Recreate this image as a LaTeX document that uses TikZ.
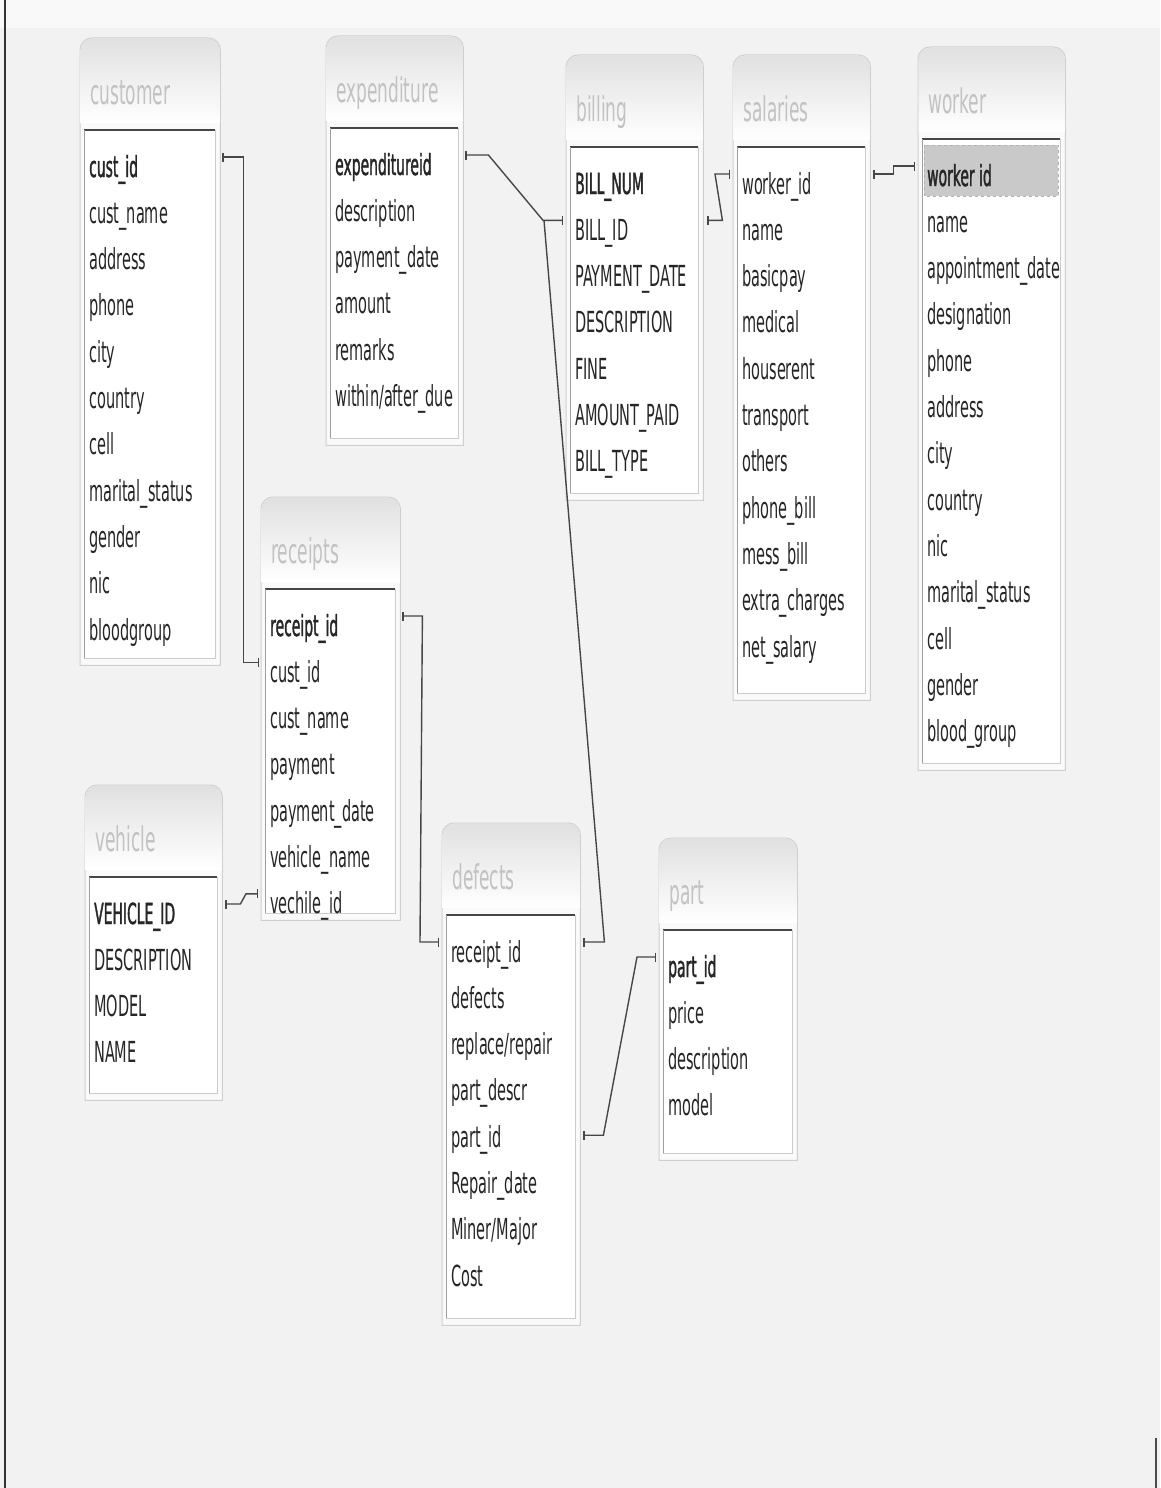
\documentclass[tikz,border=0pt]{standalone}
\usepackage{fontspec}
\setmainfont{DejaVu Sans}[FakeStretch=0.5]
\newfontfamily\keyfont{DejaVu Sans}[FakeStretch=0.48,FakeBold=1.2]
\usetikzlibrary{arrows.meta,calc}

\tikzset{
  panelline/.style={draw=gray!38, line width=1pt},
  titletext/.style={anchor=base west, inner sep=0, text=gray!48, font=\fontsize{34}{36}\selectfont},
  rowtext/.style={anchor=base west, inner sep=0, text=black!85, font=\fontsize{29}{32}\selectfont},
  conn/.style={draw=black!72, line width=1.4pt, {Bar[width=9pt,line width=1.5pt]}-{Bar[width=9pt,line width=1.5pt]}},
  connend/.style={draw=black!72, line width=1.4pt, -{Bar[width=9pt,line width=1.5pt]}},
  highlight/.style={fill=gray!42, draw=gray!60, dashed, line width=0.8pt},
}

% #1 name, #2 x, #3 y, #4 w, #5 h, #6 title, #7 rows, #8 extra code before rows
\newcommand\ertab[8]{%
  \node[inner sep=0, minimum width=#4pt, minimum height=#5pt, anchor=north west] (#1) at (#2pt,-#3pt) {};
  \path[panelline, fill=gray!4] (#1.south west) -- ([yshift=-12pt]#1.north west)
     arc[start angle=180,end angle=90,radius=12pt] -- ([xshift=-12pt]#1.north east)
     arc[start angle=90,end angle=0,radius=12pt] -- (#1.south east) -- cycle;
  \shade[top color=gray!24, bottom color=white] ([shift={(0.5pt,-85pt)}]#1.north west) -- ([shift={(0.5pt,-12pt)}]#1.north west)
     arc[start angle=180,end angle=90,radius=11.5pt] -- ([shift={(-12pt,-0.5pt)}]#1.north east)
     arc[start angle=90,end angle=0,radius=11.5pt] -- ([shift={(-0.5pt,-85pt)}]#1.north east) -- cycle;
  \node[titletext] (#1-title) at ($(#1.north west)+(10pt,-66pt)$) {#6};
  \coordinate (#1-inw) at ($(#1.north west)+(4pt,-92pt)$);
  \coordinate (#1-ise) at ($(#1.south east)+(-5pt,7pt)$);
  \filldraw[fill=white, draw=gray!40, line width=0.8pt] (#1-inw) rectangle (#1-ise);
  \draw[gray!55!black, line width=1.6pt] (#1-inw) -- (#1-inw -| #1-ise);
  \draw[gray!75, line width=0.9pt] (#1-inw) -- (#1-inw |- #1-ise);
  #8
  \foreach \t [count=\i] in {#7} {
    \node[rowtext] (#1-r\i) at ($(#1.north west)+(9pt,{-139pt-(\i-1)*46.3pt})$) {\t};
    \coordinate (#1-r\i-e) at ($(#1.north east)+(0pt,{-119pt-(\i-1)*46.3pt})$);
    \coordinate (#1-r\i-w) at ($(#1.north west)+(0pt,{-119pt-(\i-1)*46.3pt})$);
  }
}

\begin{document}
\begin{tikzpicture}
  \useasboundingbox (0,0) rectangle (1160pt,-1488pt);
  \fill[gray!10] (0,0) rectangle (1160pt,-1488pt);
  \fill[gray!5] (0,0) rectangle (1160pt,-28pt);
  \draw[black!80, line width=1.5pt] (5pt,0) -- (5pt,-1488pt);
  \draw[black!70, line width=1.2pt] (1156pt,-1438pt) -- (1156pt,-1488pt);

  \ertab{customer}{80}{38}{140}{627}{customer}
    {{\keyfont cust\_id}, cust\_name, address, phone, city, country, cell, marital\_status, gender, nic, bloodgroup}{}
  \ertab{expenditure}{326}{36}{137}{409}{expenditure}
    {{\keyfont expenditureid}, description, payment\_date, amount, remarks, within/after\_due}{}
  \ertab{billing}{566}{55}{137}{445}{billing}
    {{\keyfont BILL\_NUM}, BILL\_ID, PAYMENT\_DATE, DESCRIPTION, FINE, AMOUNT\_PAID, BILL\_TYPE}{}
  \ertab{salaries}{733}{55}{137}{645}{salaries}
    {worker\_id, name, basicpay, medical, houserent, transport, others, phone\_bill, mess\_bill, extra\_charges, net\_salary}{}
  \ertab{worker}{918}{47}{147}{723}{worker}
    {{\keyfont worker id}, name, appointment\_date, designation, phone, address, city, country, nic, marital\_status, cell, gender, blood\_group}
    {\draw[highlight] ($(worker-inw)+(2pt,-6pt)$) rectangle ($(worker-inw -| worker-ise)+(-2pt,-57pt)$);}
  \ertab{receipts}{261}{497}{139}{423}{receipts}
    {{\keyfont receipt\_id}, cust\_id, cust\_name, payment, payment\_date, vehicle\_name, vechile\_id}{}
  \ertab{vehicle}{85}{785}{137}{315}{vehicle}
    {{\keyfont VEHICLE\_ID}, DESCRIPTION, MODEL, NAME}{}
  \ertab{defects}{442}{823}{138}{502}{defects}
    {receipt\_id, defects, replace/repair, part\_descr, part\_id, Repair\_date, Miner/Major, Cost}{}
  \ertab{part}{659}{838}{138}{322}{part}
    {{\keyfont part\_id}, price, description, model}{}

  % connectors
  \draw[conn] ([xshift=2pt]customer-r1-e) -- ++(21pt,0) |- ([xshift=-2pt]receipts-r2-w);
  \draw[conn] ([xshift=2pt]expenditure-r1-e) -- ++(23pt,0) -- ([xshift=-23pt]billing-r2-w) -- ([xshift=-3pt]billing-r2-w);
  \draw[connend] ([xshift=-22pt]billing-r2-w) -- ([xshift=24pt]defects-r1-e) -- ([xshift=3pt]defects-r1-e);
  \draw[conn] ([xshift=4pt]billing-r2-e) -- ++(15pt,0) -- ([xshift=-18pt]salaries-r1-w) -- ([xshift=-3pt]salaries-r1-w);
  \draw[conn] ([xshift=3pt]salaries-r1-e) -- ++(20pt,0) |- ([xshift=-3pt]worker-r1-w);
  \draw[conn] ([xshift=3pt]vehicle-r1-e) -- ++(15pt,0) -- ([xshift=-15pt]receipts-r7-w) -- ([xshift=-3pt]receipts-r7-w);
  \draw[conn] ([xshift=2pt]receipts-r1-e) -- ++(20pt,0) -- ([xshift=-22pt]defects-r1-w) -- ([xshift=-3pt]defects-r1-w);
  \draw[conn] ([xshift=3pt,yshift=-8pt]defects-r5-e) -- ++(20pt,0) -- ([xshift=-22pt]part-r1-w) -- ([xshift=-3pt]part-r1-w);
\end{tikzpicture}
\end{document}
